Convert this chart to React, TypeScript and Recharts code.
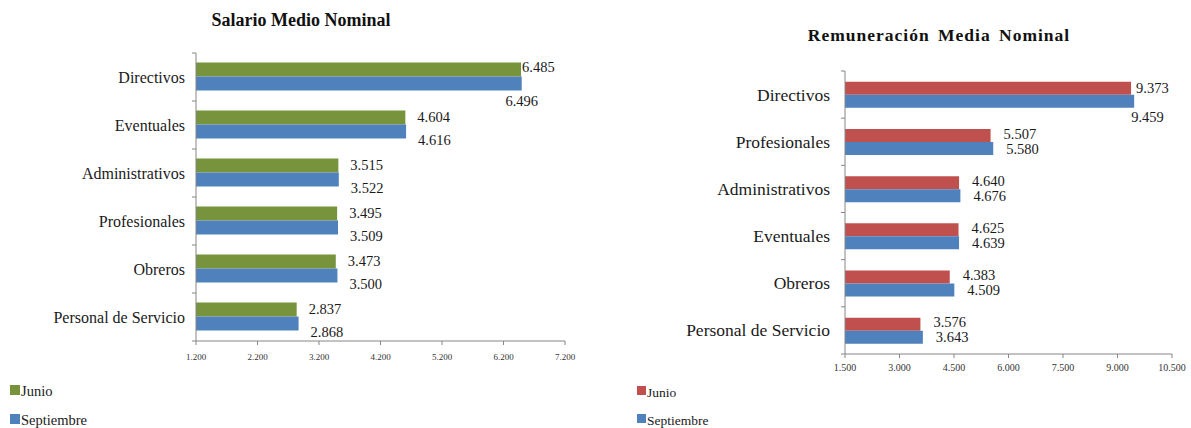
import React from 'react';
import { BarChart, Bar, XAxis, YAxis, LabelList } from 'recharts';

// ---- Data ----
const salarioCategories = ['Directivos', 'Eventuales', 'Administrativos', 'Profesionales', 'Obreros', 'Personal de Servicio'];
const salarioJunio = [6485, 4604, 3515, 3495, 3473, 2837];
const salarioSeptiembre = [6496, 4616, 3522, 3509, 3500, 2868];
const salarioTicks = [1200, 2200, 3200, 4200, 5200, 6200, 7200];

const remuCategories = ['Directivos', 'Profesionales', 'Administrativos', 'Eventuales', 'Obreros', 'Personal de Servicio'];
const remuJunio = [9373, 5507, 4640, 4625, 4383, 3576];
const remuSeptiembre = [9459, 5580, 4676, 4639, 4509, 3643];
const remuTicks = [1500, 3000, 4500, 6000, 7500, 9000, 10500];

const seriesNames = ['Junio', 'Septiembre'];
const salarioTitle = 'Salario Medio Nominal';
const remuTitle = 'Remuneración Media Nominal';

const GREEN = '#77933C';
const BLUE = '#4F81BD';
const RED = '#C0504D';
const AXIS = '#868686';
const FONT = "Liberation Serif, Times New Roman, Times, serif";

const fmt = (n: number) => {
  const s = Math.round(n).toString();
  return s.replace(/\B(?=(\d{3})+(?!\d))/g, '.');
};

const buildRows = (cats: string[], a: number[], b: number[]) =>
  cats.map((c, i) => ({ name: c, junio: a[i], septiembre: b[i] }));

type ChartCfg = {
  cats: string[];
  a: number[];
  b: number[];
  ticks: number[];
  colorA: string;
  width: number;
  height: number;
  top: number;
  bottom: number;
  yAxisWidth: number;
  right: number;
  gap: string;
  catFont: number;
  catGap: number;
  valFont: number;
  tickFont: number;
  tickMargin: number;
  juOff: number;
  seOff: number;
  seDy: number;
  juDy: number;
  firstJu: { dx: number; dy: number };
  firstSe: { dx: number; dy: number; anchor: 'start' | 'middle' };
};

function ComparisonChart({ cfg }: { cfg: ChartCfg }) {
  const rows = buildRows(cfg.cats, cfg.a, cfg.b);
  const plotH = cfg.height - cfg.top - cfg.bottom;
  const band = plotH / cfg.cats.length;

  const CatTick = (props: any) => {
    const { x, y, payload, index } = props;
    return (
      <g>
        <line x1={x - 4} x2={x} y1={y - band / 2} y2={y - band / 2} stroke={AXIS} />
        {index === cfg.cats.length - 1 && (
          <line x1={x - 4} x2={x} y1={y + band / 2} y2={y + band / 2} stroke={AXIS} />
        )}
        <text x={x - cfg.catGap} y={y} textAnchor="end" dominantBaseline="central" style={{ fontFamily: FONT, fontSize: cfg.catFont }} fill="#1a1a1a">
          {payload.value}
        </text>
      </g>
    );
  };

  const juLabel = (props: any) => {
    const { x, y, width, height, value, index } = props;
    const first = index === 0;
    const lx = x + width + (first ? cfg.firstJu.dx : cfg.juOff);
    const ly = y + height / 2 + (first ? cfg.firstJu.dy : cfg.juDy);
    return (
      <text x={lx} y={ly} dominantBaseline="central" style={{ fontFamily: FONT, fontSize: cfg.valFont }} fill="#1a1a1a">
        {fmt(value)}
      </text>
    );
  };

  const seLabel = (props: any) => {
    const { x, y, width, height, value, index } = props;
    const first = index === 0;
    const lx = x + width + (first ? cfg.firstSe.dx : cfg.seOff);
    const ly = first ? y + height + cfg.firstSe.dy : y + height / 2 + cfg.seDy;
    return (
      <text x={lx} y={ly} textAnchor={first ? cfg.firstSe.anchor : 'start'} dominantBaseline="central" style={{ fontFamily: FONT, fontSize: cfg.valFont }} fill="#1a1a1a">
        {fmt(value)}
      </text>
    );
  };

  return (
    <BarChart
      width={cfg.width}
      height={cfg.height}
      data={rows}
      layout="vertical"
      margin={{ top: cfg.top, right: cfg.right, bottom: cfg.bottom - 30, left: 0 }}
      barCategoryGap={cfg.gap}
      barGap={0}
      style={{ fontFamily: FONT }}
    >
      <XAxis
        type="number"
        domain={[cfg.ticks[0], cfg.ticks[cfg.ticks.length - 1]]}
        ticks={cfg.ticks}
        interval={0}
        tickFormatter={fmt}
        height={30}
        tickSize={4}
        tickMargin={cfg.tickMargin}
        axisLine={{ stroke: AXIS }}
        tickLine={{ stroke: AXIS }}
        tick={{ fontSize: cfg.tickFont, fontFamily: FONT, fill: '#333' }}
        allowDataOverflow
      />
      <YAxis
        type="category"
        dataKey="name"
        width={cfg.yAxisWidth}
        tickSize={0}
        tickMargin={0}
        tickLine={false}
        axisLine={{ stroke: AXIS }}
        tick={<CatTick />}
        interval={0}
      />
      <Bar dataKey="junio" name={seriesNames[0]} fill={cfg.colorA} isAnimationActive={false}>
        <LabelList dataKey="junio" content={juLabel} />
      </Bar>
      <Bar dataKey="septiembre" name={seriesNames[1]} fill={BLUE} isAnimationActive={false}>
        <LabelList dataKey="septiembre" content={seLabel} />
      </Bar>
    </BarChart>
  );
}

function Legend({ left, top, color, font, sq, step, textDy }: { left: number; top: number; color: string; font: number; sq: number; step: number; textDy: number }) {
  const colors = [color, BLUE];
  return (
    <div style={{ position: 'absolute', left, top, fontFamily: FONT, fontSize: font, color: '#1a1a1a' }}>
      {seriesNames.map((n, i) => (
        <div key={n} style={{ position: 'absolute', left: 0, top: i * step, display: 'flex', alignItems: 'center', whiteSpace: 'nowrap', height: sq }}>
          <span style={{ display: 'inline-block', width: sq, height: sq, background: colors[i], marginRight: 1 }} />
          <span style={{ lineHeight: 1, position: 'relative', top: textDy }}>{n}</span>
        </div>
      ))}
    </div>
  );
}

const leftCfg: ChartCfg = {
  cats: salarioCategories,
  a: salarioJunio,
  b: salarioSeptiembre,
  ticks: salarioTicks,
  colorA: GREEN,
  width: 600,
  height: 428,
  top: 53,
  bottom: 87,
  yAxisWidth: 196,
  right: 35,
  gap: '20%',
  catFont: 16,
  catGap: 11,
  valFont: 14.5,
  tickFont: 9,
  tickMargin: 9,
  juOff: 12,
  seOff: 12,
  juDy: -1,
  seDy: 8,
  firstJu: { dx: 1, dy: -3 },
  firstSe: { dx: 0, dy: 10, anchor: 'middle' },
};

const rightCfg: ChartCfg = {
  cats: remuCategories,
  a: remuJunio,
  b: remuSeptiembre,
  ticks: remuTicks,
  colorA: RED,
  width: 591,
  height: 428,
  top: 71,
  bottom: 74,
  yAxisWidth: 245,
  right: 19,
  gap: '23%',
  catFont: 17.5,
  catGap: 15,
  valFont: 14.5,
  tickFont: 10,
  tickMargin: 6,
  juOff: 13,
  seOff: 13,
  juDy: -2,
  seDy: 0,
  firstJu: { dx: 5, dy: 0 },
  firstSe: { dx: -3, dy: 9, anchor: 'start' },
};

export default function App() {
  return (
    <div style={{ position: 'absolute', left: 0, top: 0, width: 1191, height: 428, background: '#fff', overflow: 'hidden', fontFamily: FONT }}>
      <div style={{ position: 'absolute', left: 0, top: 0 }}>
        <ComparisonChart cfg={leftCfg} />
      </div>
      <div style={{ position: 'absolute', left: 600, top: 0 }}>
        <ComparisonChart cfg={rightCfg} />
      </div>
      <div style={{ position: 'absolute', left: 151, width: 300, top: 9, textAlign: 'center', fontFamily: FONT, fontWeight: 'bold', fontSize: 18, lineHeight: '22px', color: '#111' }}>
        {salarioTitle}
      </div>
      <div style={{ position: 'absolute', left: 739, width: 400, top: 24, textAlign: 'center', fontFamily: FONT, fontWeight: 'bold', fontSize: 17.5, lineHeight: '22px', color: '#111', letterSpacing: 1, wordSpacing: 3 }}>
        {remuTitle}
      </div>
      <Legend left={10} top={385} color={GREEN} font={14.5} sq={10} step={29} textDy={1} />
      <Legend left={637} top={386} color={RED} font={13.5} sq={9} step={28} textDy={2} />
    </div>
  );
}
